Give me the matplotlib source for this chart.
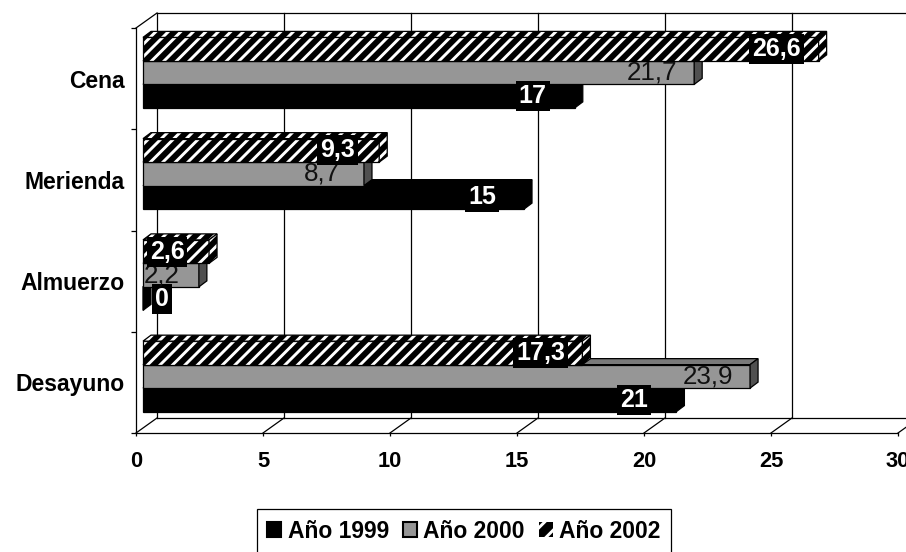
import matplotlib
matplotlib.use('Agg')
import matplotlib.pyplot as plt
from matplotlib.patches import Polygon, Patch
import numpy as np

# datos por comida (de abajo hacia arriba)
comidas = ['Desayuno', 'Almuerzo', 'Merienda', 'Cena']
anio_1999 = [21, 0, 15, 17]
anio_2000 = [23.9, 2.2, 8.7, 21.7]
anio_2002 = [17.3, 2.6, 9.3, 26.6]
nombres = ['Año 1999', 'Año 2000', 'Año 2002']

plt.rcParams['font.family'] = ['Liberation Sans', 'DejaVu Sans']
plt.rcParams['hatch.linewidth'] = 1.4

DPI = 150
W, H = 906, 552
fig = plt.figure(figsize=(W / DPI, H / DPI), dpi=DPI)

# plano frontal del grafico, en pixeles de la imagen
x0, x1, ytop, ybot = 136, 898, 28, 433
ax = fig.add_axes([x0 / W, 1 - ybot / H, (x1 - x0) / W, (ybot - ytop) / H])
ax.set_xlim(0, 30)
ax.set_ylim(-0.5, 3.5)

sx = (x1 - x0) / 30.0
sy = (ybot - ytop) / 4.0


def px(dx, dy):
    # pasa un desplazamiento en pixeles a unidades de datos
    return dx / sx, dy / sy


ox, oy = px(7, 6)      # plano donde van las barras
dx, dy = px(8, 6)      # profundidad de cada barra
bx, by = px(21, 15)    # pared del fondo

lw = 0.6
y = np.arange(len(comidas))
h = 0.232
rayas = '////'

# pared del fondo y piso
for xv in range(0, 31, 5):
    ax.plot([xv + bx] * 2, [-0.5 + by, 3.5 + by], color='black', lw=lw, zorder=1, clip_on=False)
    ax.plot([xv, xv + bx], [-0.5, -0.5 + by], color='black', lw=lw, zorder=1, clip_on=False)
ax.plot([bx, 30 + bx], [3.5 + by] * 2, color='black', lw=lw, zorder=1, clip_on=False)
ax.plot([bx, 30 + bx], [-0.5 + by] * 2, color='black', lw=lw, zorder=1, clip_on=False)
ax.plot([0, bx], [3.5, 3.5 + by], color='black', lw=lw, zorder=1, clip_on=False)


def cara(pts, color, z, rayado=False):
    if rayado:
        ax.add_patch(Polygon(pts, closed=True, facecolor='black', edgecolor='white',
                             hatch=rayas, lw=0, zorder=z))
        ax.add_patch(Polygon(pts, closed=True, fill=False, edgecolor='black', lw=lw, zorder=z))
    else:
        ax.add_patch(Polygon(pts, closed=True, facecolor=color, edgecolor='black', lw=lw, zorder=z))


def barras_3d(vals, desp, frente, arriba, lado, z, rayado=False):
    yc = y + desp + oy
    if rayado:
        ax.barh(yc, vals, height=h, left=ox, color='black', edgecolor='white',
                hatch=rayas, lw=0, zorder=z)
        ax.barh(yc, vals, height=h, left=ox, fill=False, edgecolor='black', lw=lw, zorder=z)
    else:
        ax.barh(yc, vals, height=h, left=ox, color=frente, edgecolor='black', lw=lw, zorder=z)
    for yi, v in zip(yc, vals):
        yb, yt = yi - h / 2, yi + h / 2
        xe = ox + v
        cara([(ox, yt), (xe, yt), (xe + dx, yt + dy), (ox + dx, yt + dy)], arriba, z, rayado)
        cara([(xe, yb), (xe, yt), (xe + dx, yt + dy), (xe + dx, yb + dy)], lado, z, rayado)


barras_3d(anio_1999, -h, 'black', 'black', 'black', 2)
barras_3d(anio_2000, 0, '#969696', '#7a7a7a', '#505050', 3)
barras_3d(anio_2002, h, 'black', 'black', 'black', 4, rayado=True)

# etiquetas de valores
for vals, desp, caja in [(anio_1999, -h, True), (anio_2000, 0, False), (anio_2002, h, True)]:
    for yi, v in zip(y, vals):
        lx = ox + max(v - 42 / sx, 19 / sx)
        txt = f'{v:g}'.replace('.', ',')
        if caja:
            ax.text(lx, yi + desp + oy, txt, ha='center', va='center', color='white',
                    fontsize=12, fontweight='bold', zorder=10,
                    bbox=dict(boxstyle='square,pad=0.12', fc='black', ec='none'))
        else:
            ax.text(lx, yi + desp + oy, txt, ha='center', va='center', color='#111111',
                    fontsize=12.5, zorder=10)

# ejes
for s in ['top', 'right']:
    ax.spines[s].set_visible(False)
for s in ['left', 'bottom']:
    ax.spines[s].set_linewidth(lw)
ax.set_xticks(range(0, 31, 5))
ax.set_yticks(y)
ax.set_yticklabels(comidas)
ax.set_yticks(np.arange(-0.5, 3.6, 1), minor=True)
ax.tick_params(axis='x', length=1.5, width=lw, pad=7, labelsize=10.5)
ax.tick_params(axis='y', which='major', length=0, pad=5.3, labelsize=11)
ax.tick_params(axis='y', which='minor', length=2.4, width=lw)
for t in ax.get_xticklabels() + ax.get_yticklabels():
    t.set_fontweight('bold')

# leyenda
handles = [Patch(facecolor='black', edgecolor='black'),
           Patch(facecolor='#969696', edgecolor='black'),
           Patch(facecolor='black', edgecolor='white', hatch='///', lw=0)]
leg = fig.legend(handles, nombres, loc='center', bbox_to_anchor=(464 / W, 1 - 531 / H),
                 ncol=3, frameon=True, fancybox=False, edgecolor='black', framealpha=1,
                 prop={'size': 11, 'weight': 'bold'}, handlelength=0.6, handleheight=0.6,
                 handletextpad=0.3, columnspacing=0.6, borderpad=0.45)
leg.get_frame().set_linewidth(lw)

fig.savefig('out.png', dpi=DPI)
